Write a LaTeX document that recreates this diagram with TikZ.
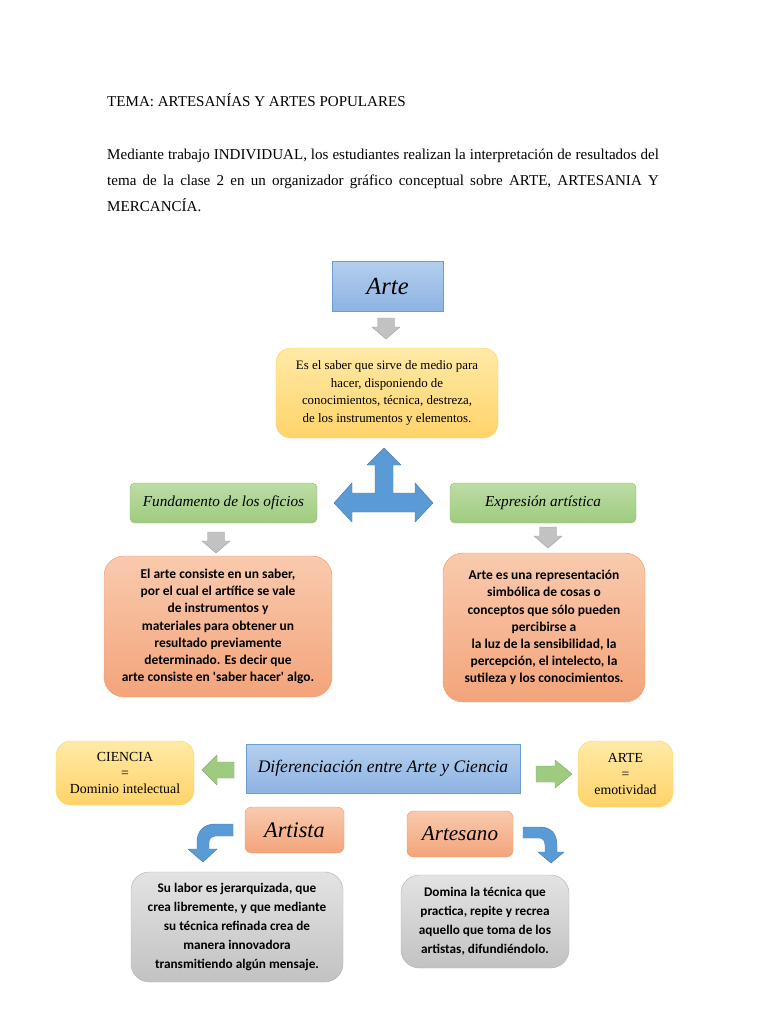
\documentclass[tikz,border=0pt]{standalone}
\usepackage{fontspec}
\setmainfont{Liberation Serif}
\newfontfamily\calfont{Carlito}
\usetikzlibrary{positioning}
\definecolor{mybluetop}{HTML}{B4CFEE}
\definecolor{mybluebot}{HTML}{8DB3E2}
\definecolor{myblueline}{HTML}{6D9BD3}
\definecolor{myyeltop}{HTML}{FFEAA6}
\definecolor{myyelbot}{HTML}{FFD36A}
\definecolor{myyelline}{HTML}{FFD45E}
\definecolor{mygreentop}{HTML}{BCDDA5}
\definecolor{mygreenbot}{HTML}{9FCB80}
\definecolor{mygreenline}{HTML}{8EBF6E}
\definecolor{mysalmtop}{HTML}{F9CAAE}
\definecolor{mysalmbot}{HTML}{F3A47A}
\definecolor{mysalmline}{HTML}{F29C6C}
\definecolor{mygraytop}{HTML}{E3E3E3}
\definecolor{mygraybot}{HTML}{C2C2C2}
\definecolor{mygrayline}{HTML}{B5B5B5}
\definecolor{myarrowblue}{HTML}{5B9BD5}
\tikzset{
	boxsize/.style 2 args={minimum width=#1*0.3mm, minimum height=#2*0.3mm, inner sep=0pt, align=center}
}
\tikzset{
	titlebox/.style={draw=myblueline, top color=mybluetop, bottom color=mybluebot},
	yellowbox/.style={draw=myyelline, top color=myyeltop, bottom color=myyelbot, rounded corners=4.5mm},
	greenbox/.style={draw=mygreenline, top color=mygreentop, bottom color=mygreenbot, rounded corners=1.5mm},
	salmonbox/.style={draw=mysalmline, top color=mysalmtop, bottom color=mysalmbot, rounded corners=#1},
	graybox/.style={draw=mygrayline, top color=mygraytop, bottom color=mygraybot, rounded corners=5.5mm}
}
\tikzset{
	handtext/.style={font=\fontsize{#1}{#1}\selectfont\itshape},
	serifsmall/.style 2 args={font=\fontsize{#1}{#2}\selectfont},
	calbold/.style 2 args={font=\calfont\bfseries\fontsize{#1}{#2}\selectfont}
}
\tikzset{
	downarrow/.pic={
			\draw[fill=#1, draw=#1!85!black, line join=round]
			(-8.5,0) -- (8.5,0) -- (8.5,9) -- (14,9) -- (0,21) -- (-14,9) -- (-8.5,9) -- cycle;
		},
	leftarrow/.pic={
			\draw[fill=#1, draw=#1!85!black, line join=round]
			(0,0) -- (15,-15) -- (15,-8) -- (32,-8) -- (32,8) -- (15,8) -- (15,15) -- cycle;
		},
	rightarrow/.pic={
			\draw[fill=#1, draw=#1!85!black, line join=round]
			(0,0) -- (-17,-14) -- (-17,-8) -- (-36,-8) -- (-36,8) -- (-17,8) -- (-17,14) -- cycle;
		}
}

\begin{document}
\begin{tikzpicture}[x=0.3mm, y=-0.3mm]
\useasboundingbox[fill=white] (0,0) rectangle (768,1024);

% heading and task
\node[anchor=base west, inner sep=0pt, font=\fontsize{12.85}{22}\selectfont] (tema) at (107,106) {TEMA: ARTESANÍAS Y ARTES POPULARES};
\node[anchor=north west, inner sep=0pt, text width=470.9pt, align=justify, font=\fontsize{12.85}{22}\selectfont] (tarea) at (107,149) {Mediante trabajo INDIVIDUAL, los estudiantes realizan la interpretación de resultados del\linebreak tema de la clase 2 en un organizador gráfico conceptual sobre ARTE, ARTESANIA Y\linebreak MERCANCÍA.};

% top of the map
\node[titlebox, boxsize={111}{50}, handtext=21] (arte) at (387.5,286) {Arte};
\pic at (386,318) {downarrow={mygraybot}};
\node[yellowbox, boxsize={222}{90}, serifsmall={11}{15}] (saber) at (387,393) {Es el saber que sirve de medio para\\hacer, disponiendo de\\conocimientos, técnica, destreza,\\de los instrumentos y elementos.};

\draw[fill=myarrowblue, draw=myarrowblue!80!black, line join=round]
	(384,448) -- (401,465) -- (393,465) -- (393,493) -- (415,493) -- (415,483) -- (433,503)
	-- (415,522) -- (415,512) -- (352,512) -- (352,522) -- (334,503) -- (352,483) -- (352,493)
	-- (375,493) -- (375,465) -- (367,465) -- cycle;

\node[greenbox, boxsize={187}{40}, handtext=13] (oficios) at (223.5,503) {Fundamento de los oficios};
\node[greenbox, boxsize={186}{40}, handtext=13] (expresion) at (543,503) {Expresión artística};
\pic at (216,532) {downarrow={mygraybot}};
\pic at (548,527) {downarrow={mygraybot}};

\node[salmonbox=6mm, boxsize={228}{141}, calbold={11.5}{14.6}] (saberhacer) at (218,626.5) {El arte consiste en un saber,\\por el cual el artífice se vale\\de instrumentos y\\materiales para obtener un\\resultado previamente\\determinado. Es decir que\\arte consiste en \textquotesingle saber hacer\textquotesingle{} algo.};
\node[salmonbox=6mm, boxsize={202}{149}, calbold={11.5}{14.6}] (simbolo) at (544,627.5) {Arte es una representación\\simbólica de cosas o\\conceptos que sólo pueden\\percibirse a\\la luz de la sensibilidad, la\\percepción, el intelecto, la\\sutileza y los conocimientos.};

% lower part
\node[yellowbox, boxsize={138}{64}, serifsmall={11.8}{13.6}] (ciencia) at (125,773) {CIENCIA\\=\\Dominio intelectual};
\pic at (202,770) {leftarrow={mygreenbot}};
\node[titlebox, boxsize={274}{49}, handtext=15] (diferencia) at (383,768.5) {Diferenciación entre Arte y Ciencia};
\pic at (572,774) {rightarrow={mygreenbot}};
\node[yellowbox, boxsize={95}{66}, serifsmall={11.8}{13.6}] (emotividad) at (625.5,774) {ARTE\\=\\emotividad};

\node[salmonbox=2mm, boxsize={99}{46}, handtext=19] (artista) at (294.5,830) {Artista};
\node[salmonbox=2mm, boxsize={106}{46}, handtext=18] (artesano) at (460,834) {Artesano};

\draw[fill=myarrowblue, draw=myarrowblue!80!black, line join=round]
	(233,824) -- (215,824) .. controls (204,824) and (197,831) .. (197,842) -- (197,849)
	-- (188,849) -- (203,862) -- (217,849) -- (209,849) -- (209,842)
	.. controls (209,838) and (212,836) .. (215,836) -- (233,836) -- cycle;
\draw[fill=myarrowblue, draw=myarrowblue!80!black, line join=round]
	(523,827) -- (540,827) .. controls (551,827) and (557,834) .. (557,845) -- (557,852)
	-- (564,852) -- (551,863) -- (538,852) -- (545,852) -- (545,845)
	.. controls (545,841) and (543,838) .. (540,838) -- (523,838) -- cycle;

\node[graybox, boxsize={212}{110}, calbold={11.3}{16.2}] (jerarquia) at (237,927) {Su labor es jerarquizada, que\\crea libremente, y que mediante\\su técnica refinada crea de\\manera innovadora\\transmitiendo algún mensaje.};
\node[graybox, boxsize={168}{93}, calbold={11.3}{16.2}] (tecnica) at (485,921.5) {Domina la técnica que\\practica, repite y recrea\\aquello que toma de los\\artistas, difundiéndolo.};

\end{tikzpicture}
\end{document}
